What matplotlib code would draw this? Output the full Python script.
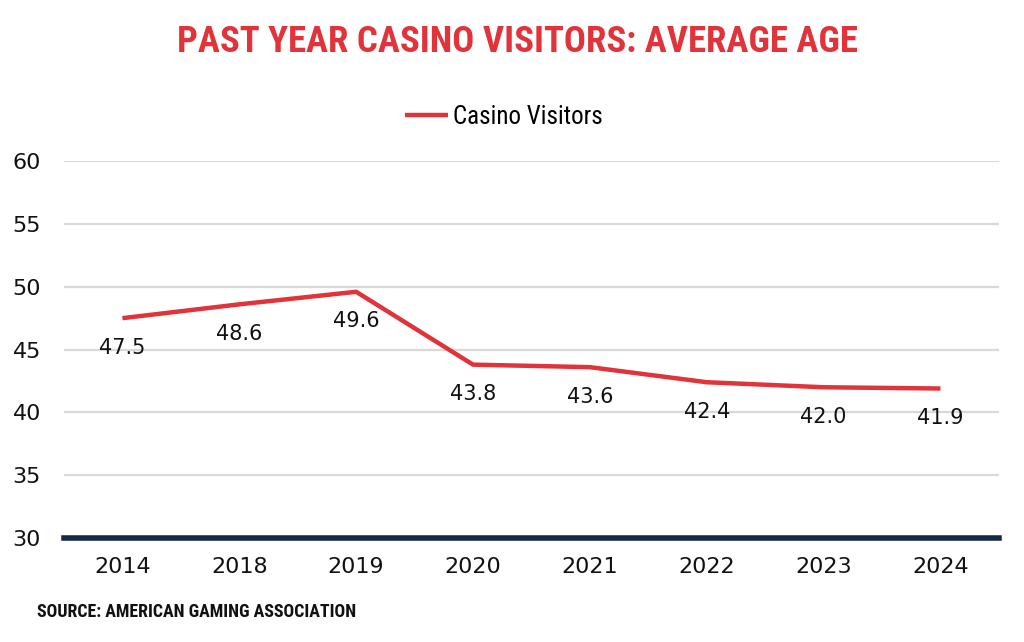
import matplotlib
matplotlib.use("Agg")
import matplotlib.pyplot as plt

years = ["2014", "2018", "2019", "2020", "2021", "2022", "2023", "2024"]
avg_age = [47.5, 48.6, 49.6, 43.8, 43.6, 42.4, 42.0, 41.9]
y_ticks = [30, 35, 40, 45, 50, 55, 60]
series_name = "Casino Visitors"
title = "PAST YEAR CASINO VISITORS: AVERAGE AGE"
source = "SOURCE: AMERICAN GAMING ASSOCIATION"

COND = ["Roboto Condensed", "DejaVu Sans"]
RED = "#E0333A"
NAVY = "#162A45"

fig = plt.figure(figsize=(10.24, 6.42), dpi=100)
ax = fig.add_axes([0.0625, 0.162, 0.913, 0.587])

x = list(range(len(years)))
ax.plot(x, avg_age, color=RED, lw=3.2, label=series_name, solid_capstyle="butt")
for xi, v in zip(x, avg_age):
    ax.annotate(f"{v:.1f}", (xi, v), xytext=(0, -14), textcoords="offset points",
                ha="center", va="top", fontsize=15, color="#111111", family="DejaVu Sans")

ax.set_xlim(-0.5, len(years) - 0.5)
ax.set_ylim(30, 60)
ax.set_yticks(y_ticks)
ax.set_yticklabels([str(t) for t in y_ticks], fontsize=16, color="#111111", family="DejaVu Sans")
ax.set_xticks(x)
ax.set_xticklabels(years, fontsize=16, color="#111111", family="DejaVu Sans")
ax.tick_params(length=0)
ax.tick_params(axis="y", pad=16.5)
ax.tick_params(axis="x", pad=14)
ax.yaxis.grid(True, color="#D9D9D9", lw=1.6)
ax.set_axisbelow(True)
for s in ["top", "right", "left"]:
    ax.spines[s].set_visible(False)
ax.spines["bottom"].set_color(NAVY)
ax.spines["bottom"].set_linewidth(4)
ax.spines["bottom"].set_zorder(5)

leg = fig.legend(loc="center", bbox_to_anchor=(0.492, 0.818), frameon=False,
                 prop={"family": COND, "size": 18}, handlelength=1.75, handletextpad=0.2)

fig.text(0.505, 0.935, title, ha="center", va="center", fontsize=26.5,
         fontweight="bold", color=RED, family=COND)
fig.text(0.036, 0.047, source, ha="left", va="center", fontsize=12.9,
         fontweight="bold", color="#111111", family=COND)

fig.savefig("out.png", dpi=100)
